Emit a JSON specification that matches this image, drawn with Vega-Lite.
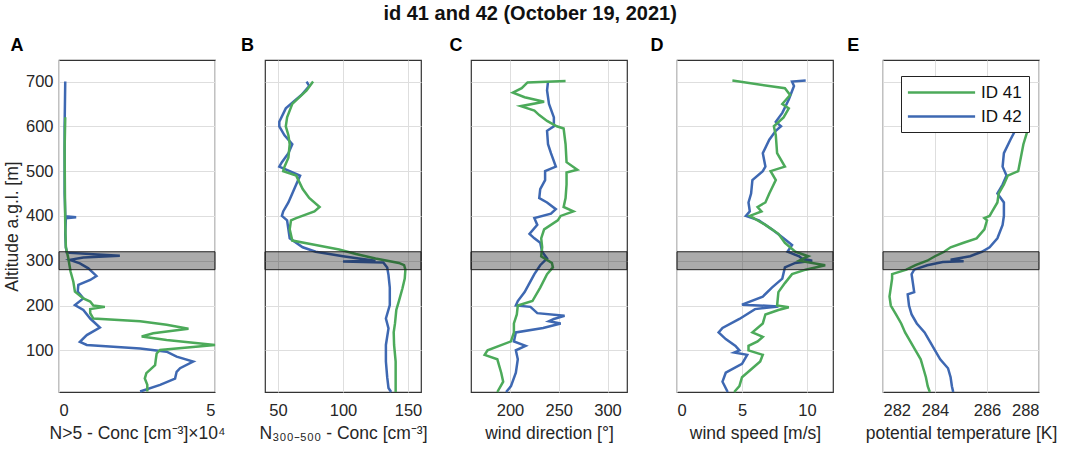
{
  "$schema": "https://vega.github.io/schema/vega-lite/v6.json",
  "autosize": {"type": "pad"},
  "padding": {"left": 2, "top": 4, "right": 5, "bottom": 5},
  "background": "white",
  "title": {"text": "id 41 and 42 (October 19, 2021)", "fontSize": 20, "fontWeight": "bold", "font": "Liberation Sans", "color": "#111111", "anchor": "middle", "offset": 12},
  "bounds": "flush",
  "spacing": 50,
  "resolve": {"scale": {"color": "independent"}, "legend": {"color": "independent"}},
  "config": {
    "font": "Liberation Sans",
    "view": {"stroke": "#333333", "strokeWidth": 1.2},
    "axis": {"grid": true, "gridColor": "#dedede", "gridWidth": 1, "ticks": false, "domain": false, "labelFont": "Liberation Sans", "labelFontSize": 16.5, "labelColor": "#262626", "titleFont": "Liberation Sans", "titleFontSize": 17.5, "titleFontWeight": "normal", "titleColor": "#262626", "labelPadding": 10, "titlePadding": 6},
    "title": {"font": "Liberation Sans"},
    "line": {"strokeWidth": 2.5}
  },
  "datasets": {
    "band": [{"lo": 280, "hi": 320}],
    "A": [
      {"id": "ID 42", "alt": 700, "v": 0.2}, {"id": "ID 42", "alt": 650, "v": 0.19}, {"id": "ID 42", "alt": 600, "v": 0.18}, {"id": "ID 42", "alt": 550, "v": 0.18}, {"id": "ID 42", "alt": 500, "v": 0.18}, {"id": "ID 42", "alt": 450, "v": 0.18}, {"id": "ID 42", "alt": 405, "v": 0.2}, {"id": "ID 42", "alt": 399, "v": 0.2}, {"id": "ID 42", "alt": 397, "v": 0.55}, {"id": "ID 42", "alt": 395, "v": 0.22}, {"id": "ID 42", "alt": 360, "v": 0.2}, {"id": "ID 42", "alt": 330, "v": 0.22}, {"id": "ID 42", "alt": 318, "v": 0.25}, {"id": "ID 42", "alt": 311, "v": 1.95}, {"id": "ID 42", "alt": 307, "v": 0.78}, {"id": "ID 42", "alt": 302, "v": 0.35}, {"id": "ID 42", "alt": 294, "v": 0.67}, {"id": "ID 42", "alt": 283, "v": 0.94}, {"id": "ID 42", "alt": 266, "v": 1.2}, {"id": "ID 42", "alt": 257, "v": 1.0}, {"id": "ID 42", "alt": 246, "v": 0.62}, {"id": "ID 42", "alt": 231, "v": 0.6}, {"id": "ID 42", "alt": 216, "v": 0.78}, {"id": "ID 42", "alt": 201, "v": 0.51}, {"id": "ID 42", "alt": 190, "v": 0.78}, {"id": "ID 42", "alt": 171, "v": 1.0}, {"id": "ID 42", "alt": 151, "v": 1.31}, {"id": "ID 42", "alt": 134, "v": 0.89}, {"id": "ID 42", "alt": 119, "v": 0.67}, {"id": "ID 42", "alt": 112, "v": 0.89}, {"id": "ID 42", "alt": 104, "v": 2.6}, {"id": "ID 42", "alt": 97, "v": 3.45}, {"id": "ID 42", "alt": 86, "v": 3.77}, {"id": "ID 42", "alt": 75, "v": 4.3}, {"id": "ID 42", "alt": 60, "v": 3.88}, {"id": "ID 42", "alt": 52, "v": 3.77}, {"id": "ID 42", "alt": 37, "v": 3.72}, {"id": "ID 42", "alt": 23, "v": 3.24}, {"id": "ID 42", "alt": 8, "v": 2.6},
      {"id": "ID 41", "alt": 620, "v": 0.2}, {"id": "ID 41", "alt": 550, "v": 0.18}, {"id": "ID 41", "alt": 450, "v": 0.19}, {"id": "ID 41", "alt": 380, "v": 0.2}, {"id": "ID 41", "alt": 330, "v": 0.22}, {"id": "ID 41", "alt": 305, "v": 0.3}, {"id": "ID 41", "alt": 276, "v": 0.37}, {"id": "ID 41", "alt": 253, "v": 0.46}, {"id": "ID 41", "alt": 231, "v": 0.51}, {"id": "ID 41", "alt": 216, "v": 0.78}, {"id": "ID 41", "alt": 209, "v": 1.0}, {"id": "ID 41", "alt": 200, "v": 1.1}, {"id": "ID 41", "alt": 197, "v": 1.47}, {"id": "ID 41", "alt": 192, "v": 1.0}, {"id": "ID 41", "alt": 183, "v": 1.0}, {"id": "ID 41", "alt": 171, "v": 1.1}, {"id": "ID 41", "alt": 165, "v": 2.6}, {"id": "ID 41", "alt": 157, "v": 3.45}, {"id": "ID 41", "alt": 148, "v": 4.15}, {"id": "ID 41", "alt": 138, "v": 3.02}, {"id": "ID 41", "alt": 131, "v": 2.65}, {"id": "ID 41", "alt": 123, "v": 3.45}, {"id": "ID 41", "alt": 112, "v": 5.0}, {"id": "ID 41", "alt": 101, "v": 3.24}, {"id": "ID 41", "alt": 93, "v": 3.13}, {"id": "ID 41", "alt": 78, "v": 3.1}, {"id": "ID 41", "alt": 67, "v": 3.08}, {"id": "ID 41", "alt": 49, "v": 2.8}, {"id": "ID 41", "alt": 37, "v": 2.75}, {"id": "ID 41", "alt": 23, "v": 2.83}, {"id": "ID 41", "alt": 8, "v": 2.83}
    ],
    "B": [
      {"id": "ID 42", "alt": 700, "v": 72}, {"id": "ID 42", "alt": 690, "v": 74}, {"id": "ID 42", "alt": 670, "v": 68}, {"id": "ID 42", "alt": 640, "v": 56}, {"id": "ID 42", "alt": 610, "v": 51}, {"id": "ID 42", "alt": 600, "v": 51}, {"id": "ID 42", "alt": 580, "v": 55}, {"id": "ID 42", "alt": 560, "v": 61}, {"id": "ID 42", "alt": 540, "v": 58}, {"id": "ID 42", "alt": 520, "v": 53}, {"id": "ID 42", "alt": 510, "v": 51}, {"id": "ID 42", "alt": 500, "v": 59}, {"id": "ID 42", "alt": 490, "v": 67}, {"id": "ID 42", "alt": 470, "v": 64}, {"id": "ID 42", "alt": 450, "v": 61}, {"id": "ID 42", "alt": 430, "v": 58}, {"id": "ID 42", "alt": 410, "v": 54}, {"id": "ID 42", "alt": 400, "v": 53}, {"id": "ID 42", "alt": 390, "v": 57}, {"id": "ID 42", "alt": 370, "v": 58}, {"id": "ID 42", "alt": 350, "v": 59}, {"id": "ID 42", "alt": 330, "v": 69}, {"id": "ID 42", "alt": 320, "v": 79}, {"id": "ID 42", "alt": 310, "v": 100}, {"id": "ID 42", "alt": 305, "v": 112}, {"id": "ID 42", "alt": 300, "v": 125}, {"id": "ID 42", "alt": 298, "v": 100}, {"id": "ID 42", "alt": 296, "v": 131}, {"id": "ID 42", "alt": 285, "v": 134}, {"id": "ID 42", "alt": 268, "v": 135}, {"id": "ID 42", "alt": 240, "v": 136}, {"id": "ID 42", "alt": 201, "v": 136}, {"id": "ID 42", "alt": 171, "v": 133}, {"id": "ID 42", "alt": 149, "v": 135}, {"id": "ID 42", "alt": 112, "v": 133}, {"id": "ID 42", "alt": 75, "v": 133}, {"id": "ID 42", "alt": 40, "v": 134}, {"id": "ID 42", "alt": 16, "v": 135}, {"id": "ID 42", "alt": 7, "v": 137},
      {"id": "ID 41", "alt": 700, "v": 77}, {"id": "ID 41", "alt": 680, "v": 72}, {"id": "ID 41", "alt": 650, "v": 61}, {"id": "ID 41", "alt": 620, "v": 57}, {"id": "ID 41", "alt": 600, "v": 56}, {"id": "ID 41", "alt": 580, "v": 58}, {"id": "ID 41", "alt": 560, "v": 59}, {"id": "ID 41", "alt": 530, "v": 58}, {"id": "ID 41", "alt": 510, "v": 55}, {"id": "ID 41", "alt": 500, "v": 54}, {"id": "ID 41", "alt": 490, "v": 64}, {"id": "ID 41", "alt": 460, "v": 69}, {"id": "ID 41", "alt": 440, "v": 74}, {"id": "ID 41", "alt": 420, "v": 82}, {"id": "ID 41", "alt": 410, "v": 78}, {"id": "ID 41", "alt": 395, "v": 64}, {"id": "ID 41", "alt": 390, "v": 60}, {"id": "ID 41", "alt": 370, "v": 59}, {"id": "ID 41", "alt": 345, "v": 61}, {"id": "ID 41", "alt": 335, "v": 79}, {"id": "ID 41", "alt": 325, "v": 97}, {"id": "ID 41", "alt": 315, "v": 110}, {"id": "ID 41", "alt": 305, "v": 125}, {"id": "ID 41", "alt": 295, "v": 143}, {"id": "ID 41", "alt": 290, "v": 147}, {"id": "ID 41", "alt": 280, "v": 148}, {"id": "ID 41", "alt": 260, "v": 147.5}, {"id": "ID 41", "alt": 238, "v": 145.7}, {"id": "ID 41", "alt": 210, "v": 143}, {"id": "ID 41", "alt": 190, "v": 141}, {"id": "ID 41", "alt": 160, "v": 140}, {"id": "ID 41", "alt": 140, "v": 139}, {"id": "ID 41", "alt": 112, "v": 139.3}, {"id": "ID 41", "alt": 75, "v": 140.5}, {"id": "ID 41", "alt": 40, "v": 140.5}, {"id": "ID 41", "alt": 7, "v": 140.5}
    ],
    "C": [
      {"id": "ID 42", "alt": 700, "v": 239}, {"id": "ID 42", "alt": 680, "v": 238}, {"id": "ID 42", "alt": 650, "v": 240}, {"id": "ID 42", "alt": 620, "v": 245}, {"id": "ID 42", "alt": 600, "v": 245}, {"id": "ID 42", "alt": 590, "v": 238}, {"id": "ID 42", "alt": 560, "v": 239}, {"id": "ID 42", "alt": 540, "v": 242}, {"id": "ID 42", "alt": 510, "v": 247}, {"id": "ID 42", "alt": 500, "v": 236}, {"id": "ID 42", "alt": 480, "v": 236}, {"id": "ID 42", "alt": 460, "v": 231}, {"id": "ID 42", "alt": 440, "v": 230}, {"id": "ID 42", "alt": 430, "v": 238}, {"id": "ID 42", "alt": 415, "v": 247}, {"id": "ID 42", "alt": 405, "v": 242}, {"id": "ID 42", "alt": 395, "v": 225}, {"id": "ID 42", "alt": 380, "v": 228}, {"id": "ID 42", "alt": 360, "v": 220}, {"id": "ID 42", "alt": 350, "v": 225}, {"id": "ID 42", "alt": 340, "v": 231}, {"id": "ID 42", "alt": 320, "v": 233}, {"id": "ID 42", "alt": 305, "v": 238}, {"id": "ID 42", "alt": 290, "v": 231}, {"id": "ID 42", "alt": 270, "v": 225}, {"id": "ID 42", "alt": 250, "v": 220}, {"id": "ID 42", "alt": 230, "v": 215}, {"id": "ID 42", "alt": 210, "v": 208}, {"id": "ID 42", "alt": 200, "v": 206}, {"id": "ID 42", "alt": 197, "v": 221}, {"id": "ID 42", "alt": 183, "v": 228}, {"id": "ID 42", "alt": 177, "v": 256}, {"id": "ID 42", "alt": 170, "v": 245}, {"id": "ID 42", "alt": 165, "v": 240}, {"id": "ID 42", "alt": 160, "v": 252}, {"id": "ID 42", "alt": 150, "v": 234}, {"id": "ID 42", "alt": 140, "v": 206}, {"id": "ID 42", "alt": 120, "v": 204}, {"id": "ID 42", "alt": 110, "v": 216}, {"id": "ID 42", "alt": 100, "v": 206}, {"id": "ID 42", "alt": 80, "v": 208}, {"id": "ID 42", "alt": 50, "v": 206}, {"id": "ID 42", "alt": 20, "v": 201}, {"id": "ID 42", "alt": 7, "v": 196},
      {"id": "ID 41", "alt": 701, "v": 257}, {"id": "ID 41", "alt": 698, "v": 218}, {"id": "ID 41", "alt": 685, "v": 212}, {"id": "ID 41", "alt": 675, "v": 203}, {"id": "ID 41", "alt": 665, "v": 215}, {"id": "ID 41", "alt": 655, "v": 235}, {"id": "ID 41", "alt": 645, "v": 211}, {"id": "ID 41", "alt": 635, "v": 225}, {"id": "ID 41", "alt": 625, "v": 230}, {"id": "ID 41", "alt": 612, "v": 238}, {"id": "ID 41", "alt": 600, "v": 248}, {"id": "ID 41", "alt": 595, "v": 255}, {"id": "ID 41", "alt": 560, "v": 257}, {"id": "ID 41", "alt": 520, "v": 258}, {"id": "ID 41", "alt": 503, "v": 269}, {"id": "ID 41", "alt": 497, "v": 258}, {"id": "ID 41", "alt": 470, "v": 258}, {"id": "ID 41", "alt": 440, "v": 257}, {"id": "ID 41", "alt": 420, "v": 255}, {"id": "ID 41", "alt": 410, "v": 265}, {"id": "ID 41", "alt": 400, "v": 252}, {"id": "ID 41", "alt": 390, "v": 249}, {"id": "ID 41", "alt": 370, "v": 235}, {"id": "ID 41", "alt": 350, "v": 232}, {"id": "ID 41", "alt": 330, "v": 233}, {"id": "ID 41", "alt": 310, "v": 232}, {"id": "ID 41", "alt": 295, "v": 243}, {"id": "ID 41", "alt": 285, "v": 244}, {"id": "ID 41", "alt": 270, "v": 238}, {"id": "ID 41", "alt": 240, "v": 231}, {"id": "ID 41", "alt": 210, "v": 223}, {"id": "ID 41", "alt": 200, "v": 208}, {"id": "ID 41", "alt": 180, "v": 207}, {"id": "ID 41", "alt": 160, "v": 204}, {"id": "ID 41", "alt": 140, "v": 204}, {"id": "ID 41", "alt": 120, "v": 201}, {"id": "ID 41", "alt": 100, "v": 177}, {"id": "ID 41", "alt": 90, "v": 174}, {"id": "ID 41", "alt": 80, "v": 187}, {"id": "ID 41", "alt": 50, "v": 191}, {"id": "ID 41", "alt": 30, "v": 193}, {"id": "ID 41", "alt": 7, "v": 187}
    ],
    "D": [
      {"id": "ID 42", "alt": 702, "v": 9.9}, {"id": "ID 42", "alt": 700, "v": 8.85}, {"id": "ID 42", "alt": 690, "v": 9.0}, {"id": "ID 42", "alt": 660, "v": 8.6}, {"id": "ID 42", "alt": 630, "v": 8.1}, {"id": "ID 42", "alt": 610, "v": 7.6}, {"id": "ID 42", "alt": 600, "v": 8.0}, {"id": "ID 42", "alt": 590, "v": 7.6}, {"id": "ID 42", "alt": 570, "v": 7.1}, {"id": "ID 42", "alt": 540, "v": 6.6}, {"id": "ID 42", "alt": 510, "v": 6.8}, {"id": "ID 42", "alt": 500, "v": 6.6}, {"id": "ID 42", "alt": 480, "v": 5.8}, {"id": "ID 42", "alt": 450, "v": 5.7}, {"id": "ID 42", "alt": 430, "v": 5.5}, {"id": "ID 42", "alt": 410, "v": 5.6}, {"id": "ID 42", "alt": 400, "v": 5.3}, {"id": "ID 42", "alt": 390, "v": 6.3}, {"id": "ID 42", "alt": 370, "v": 7.3}, {"id": "ID 42", "alt": 350, "v": 8.2}, {"id": "ID 42", "alt": 335, "v": 8.85}, {"id": "ID 42", "alt": 320, "v": 8.5}, {"id": "ID 42", "alt": 310, "v": 9.4}, {"id": "ID 42", "alt": 305, "v": 9.6}, {"id": "ID 42", "alt": 300, "v": 10.4}, {"id": "ID 42", "alt": 295, "v": 9.1}, {"id": "ID 42", "alt": 285, "v": 8.3}, {"id": "ID 42", "alt": 260, "v": 8.1}, {"id": "ID 42", "alt": 240, "v": 7.3}, {"id": "ID 42", "alt": 220, "v": 6.6}, {"id": "ID 42", "alt": 202, "v": 5.0}, {"id": "ID 42", "alt": 198, "v": 7.8}, {"id": "ID 42", "alt": 192, "v": 6.0}, {"id": "ID 42", "alt": 170, "v": 4.8}, {"id": "ID 42", "alt": 150, "v": 3.5}, {"id": "ID 42", "alt": 140, "v": 3.2}, {"id": "ID 42", "alt": 125, "v": 3.75}, {"id": "ID 42", "alt": 110, "v": 4.5}, {"id": "ID 42", "alt": 100, "v": 4.8}, {"id": "ID 42", "alt": 95, "v": 4.4}, {"id": "ID 42", "alt": 90, "v": 5.4}, {"id": "ID 42", "alt": 70, "v": 5.0}, {"id": "ID 42", "alt": 50, "v": 3.75}, {"id": "ID 42", "alt": 30, "v": 3.5}, {"id": "ID 42", "alt": 7, "v": 3.9},
      {"id": "ID 41", "alt": 702, "v": 4.26}, {"id": "ID 41", "alt": 685, "v": 8.3}, {"id": "ID 41", "alt": 670, "v": 8.7}, {"id": "ID 41", "alt": 650, "v": 8.1}, {"id": "ID 41", "alt": 640, "v": 8.6}, {"id": "ID 41", "alt": 620, "v": 8.2}, {"id": "ID 41", "alt": 600, "v": 7.45}, {"id": "ID 41", "alt": 580, "v": 7.6}, {"id": "ID 41", "alt": 540, "v": 7.7}, {"id": "ID 41", "alt": 510, "v": 8.3}, {"id": "ID 41", "alt": 500, "v": 7.2}, {"id": "ID 41", "alt": 480, "v": 7.6}, {"id": "ID 41", "alt": 450, "v": 7.1}, {"id": "ID 41", "alt": 430, "v": 6.8}, {"id": "ID 41", "alt": 420, "v": 6.2}, {"id": "ID 41", "alt": 410, "v": 6.5}, {"id": "ID 41", "alt": 400, "v": 5.6}, {"id": "ID 41", "alt": 380, "v": 6.8}, {"id": "ID 41", "alt": 360, "v": 7.8}, {"id": "ID 41", "alt": 340, "v": 8.3}, {"id": "ID 41", "alt": 320, "v": 9.1}, {"id": "ID 41", "alt": 310, "v": 10.1}, {"id": "ID 41", "alt": 300, "v": 9.4}, {"id": "ID 41", "alt": 290, "v": 11.4}, {"id": "ID 41", "alt": 280, "v": 9.9}, {"id": "ID 41", "alt": 270, "v": 8.85}, {"id": "ID 41", "alt": 250, "v": 8.3}, {"id": "ID 41", "alt": 230, "v": 7.8}, {"id": "ID 41", "alt": 200, "v": 7.7}, {"id": "ID 41", "alt": 196, "v": 8.6}, {"id": "ID 41", "alt": 190, "v": 7.8}, {"id": "ID 41", "alt": 180, "v": 6.8}, {"id": "ID 41", "alt": 160, "v": 6.6}, {"id": "ID 41", "alt": 140, "v": 5.8}, {"id": "ID 41", "alt": 130, "v": 6.6}, {"id": "ID 41", "alt": 120, "v": 6.2}, {"id": "ID 41", "alt": 110, "v": 5.5}, {"id": "ID 41", "alt": 100, "v": 5.5}, {"id": "ID 41", "alt": 90, "v": 6.6}, {"id": "ID 41", "alt": 75, "v": 6.4}, {"id": "ID 41", "alt": 60, "v": 5.8}, {"id": "ID 41", "alt": 40, "v": 5.0}, {"id": "ID 41", "alt": 20, "v": 4.8}, {"id": "ID 41", "alt": 7, "v": 4.4}
    ],
    "E": [
      {"id": "ID 42", "alt": 598, "v": 287.15}, {"id": "ID 42", "alt": 570, "v": 286.9}, {"id": "ID 42", "alt": 540, "v": 286.65}, {"id": "ID 42", "alt": 510, "v": 286.6}, {"id": "ID 42", "alt": 490, "v": 286.75}, {"id": "ID 42", "alt": 470, "v": 286.6}, {"id": "ID 42", "alt": 450, "v": 286.4}, {"id": "ID 42", "alt": 430, "v": 286.65}, {"id": "ID 42", "alt": 400, "v": 286.65}, {"id": "ID 42", "alt": 380, "v": 286.6}, {"id": "ID 42", "alt": 350, "v": 286.4}, {"id": "ID 42", "alt": 330, "v": 286.1}, {"id": "ID 42", "alt": 320, "v": 285.8}, {"id": "ID 42", "alt": 310, "v": 285.35}, {"id": "ID 42", "alt": 302, "v": 284.6}, {"id": "ID 42", "alt": 299, "v": 285.1}, {"id": "ID 42", "alt": 297, "v": 284.3}, {"id": "ID 42", "alt": 290, "v": 283.7}, {"id": "ID 42", "alt": 280, "v": 283.2}, {"id": "ID 42", "alt": 270, "v": 283.1}, {"id": "ID 42", "alt": 250, "v": 283.15}, {"id": "ID 42", "alt": 230, "v": 283.2}, {"id": "ID 42", "alt": 225, "v": 282.95}, {"id": "ID 42", "alt": 200, "v": 283.0}, {"id": "ID 42", "alt": 180, "v": 283.1}, {"id": "ID 42", "alt": 160, "v": 283.3}, {"id": "ID 42", "alt": 140, "v": 283.6}, {"id": "ID 42", "alt": 120, "v": 283.8}, {"id": "ID 42", "alt": 100, "v": 284.0}, {"id": "ID 42", "alt": 80, "v": 284.2}, {"id": "ID 42", "alt": 60, "v": 284.5}, {"id": "ID 42", "alt": 40, "v": 284.6}, {"id": "ID 42", "alt": 20, "v": 284.65}, {"id": "ID 42", "alt": 7, "v": 284.7},
      {"id": "ID 41", "alt": 598, "v": 287.6}, {"id": "ID 41", "alt": 560, "v": 287.4}, {"id": "ID 41", "alt": 500, "v": 287.2}, {"id": "ID 41", "alt": 490, "v": 286.8}, {"id": "ID 41", "alt": 470, "v": 286.65}, {"id": "ID 41", "alt": 450, "v": 286.45}, {"id": "ID 41", "alt": 430, "v": 286.4}, {"id": "ID 41", "alt": 410, "v": 286.2}, {"id": "ID 41", "alt": 400, "v": 286.1}, {"id": "ID 41", "alt": 395, "v": 285.9}, {"id": "ID 41", "alt": 390, "v": 286.0}, {"id": "ID 41", "alt": 370, "v": 285.9}, {"id": "ID 41", "alt": 350, "v": 285.6}, {"id": "ID 41", "alt": 340, "v": 285.1}, {"id": "ID 41", "alt": 330, "v": 284.6}, {"id": "ID 41", "alt": 320, "v": 284.35}, {"id": "ID 41", "alt": 310, "v": 284.0}, {"id": "ID 41", "alt": 300, "v": 283.7}, {"id": "ID 41", "alt": 290, "v": 283.25}, {"id": "ID 41", "alt": 280, "v": 282.9}, {"id": "ID 41", "alt": 270, "v": 282.35}, {"id": "ID 41", "alt": 260, "v": 282.35}, {"id": "ID 41", "alt": 240, "v": 282.3}, {"id": "ID 41", "alt": 220, "v": 282.25}, {"id": "ID 41", "alt": 200, "v": 282.3}, {"id": "ID 41", "alt": 180, "v": 282.5}, {"id": "ID 41", "alt": 160, "v": 282.7}, {"id": "ID 41", "alt": 140, "v": 282.85}, {"id": "ID 41", "alt": 120, "v": 283.05}, {"id": "ID 41", "alt": 100, "v": 283.25}, {"id": "ID 41", "alt": 80, "v": 283.45}, {"id": "ID 41", "alt": 60, "v": 283.55}, {"id": "ID 41", "alt": 40, "v": 283.65}, {"id": "ID 41", "alt": 20, "v": 283.72}, {"id": "ID 41", "alt": 7, "v": 283.8}
    ]
  },
  "hconcat": [
    {
      "width": 156, "height": 332,
      "title": {"text": "A", "anchor": "start", "dx": 7, "fontSize": 18, "fontWeight": "bold", "offset": 5, "color": "#000000"},
      "layer": [
        {"data": {"name": "A"}, "mark": {"type": "line", "strokeWidth": 2.5},
         "encoding": {
           "x": {"field": "v", "type": "quantitative", "scale": {"domain": [0, 5], "nice": false, "zero": false}, "axis": {"values": [0, 5], "title": "N>5 - Conc [cm⁻³]×10⁴"}},
           "y": {"field": "alt", "type": "quantitative", "scale": {"domain": [7, 748], "nice": false, "zero": false}, "axis": {"values": [100, 200, 300, 400, 500, 600, 700], "title": "Altitude a.g.l. [m]", "labelPadding": 6, "titlePadding": 4}},
           "color": {"field": "id", "type": "nominal", "scale": {"domain": ["ID 41", "ID 42"], "range": ["#4caa5a", "#3e68b2"]}, "legend": null},
           "order": {"field": "alt", "sort": "descending"}}},
        {"data": {"name": "band"}, "mark": {"type": "rect", "fill": "#000000", "fillOpacity": 0.33, "stroke": "#222222", "strokeWidth": 1},
         "encoding": {"y": {"field": "lo", "type": "quantitative"}, "y2": {"field": "hi"}}}
      ]
    },
    {
      "width": 156, "height": 332,
      "title": {"text": "B", "anchor": "start", "dx": -18, "fontSize": 18, "fontWeight": "bold", "offset": 5, "color": "#000000"},
      "layer": [
        {"data": {"name": "B"}, "mark": {"type": "line", "strokeWidth": 2.5},
         "encoding": {
           "x": {"field": "v", "type": "quantitative", "scale": {"domain": [40, 160], "nice": false, "zero": false}, "axis": {"values": [50, 100, 150], "title": "N₃₀₀₋₅₀₀ - Conc [cm⁻³]"}},
           "y": {"field": "alt", "type": "quantitative", "scale": {"domain": [7, 748], "nice": false, "zero": false}, "axis": {"values": [100, 200, 300, 400, 500, 600, 700], "title": null, "labels": false}},
           "color": {"field": "id", "type": "nominal", "scale": {"domain": ["ID 41", "ID 42"], "range": ["#4caa5a", "#3e68b2"]}, "legend": null},
           "order": {"field": "alt", "sort": "descending"}}},
        {"data": {"name": "band"}, "mark": {"type": "rect", "fill": "#000000", "fillOpacity": 0.33, "stroke": "#222222", "strokeWidth": 1},
         "encoding": {"y": {"field": "lo", "type": "quantitative"}, "y2": {"field": "hi"}}}
      ]
    },
    {
      "width": 156, "height": 332,
      "title": {"text": "C", "anchor": "start", "dx": -21, "fontSize": 18, "fontWeight": "bold", "offset": 5, "color": "#000000"},
      "layer": [
        {"data": {"name": "C"}, "mark": {"type": "line", "strokeWidth": 2.5},
         "encoding": {
           "x": {"field": "v", "type": "quantitative", "scale": {"domain": [160, 320], "nice": false, "zero": false}, "axis": {"values": [200, 250, 300], "title": "wind direction [°]"}},
           "y": {"field": "alt", "type": "quantitative", "scale": {"domain": [7, 748], "nice": false, "zero": false}, "axis": {"values": [100, 200, 300, 400, 500, 600, 700], "title": null, "labels": false}},
           "color": {"field": "id", "type": "nominal", "scale": {"domain": ["ID 41", "ID 42"], "range": ["#4caa5a", "#3e68b2"]}, "legend": null},
           "order": {"field": "alt", "sort": "descending"}}},
        {"data": {"name": "band"}, "mark": {"type": "rect", "fill": "#000000", "fillOpacity": 0.33, "stroke": "#222222", "strokeWidth": 1},
         "encoding": {"y": {"field": "lo", "type": "quantitative"}, "y2": {"field": "hi"}}}
      ]
    },
    {
      "width": 156, "height": 332,
      "title": {"text": "D", "anchor": "start", "dx": -26, "fontSize": 18, "fontWeight": "bold", "offset": 5, "color": "#000000"},
      "layer": [
        {"data": {"name": "D"}, "mark": {"type": "line", "strokeWidth": 2.5},
         "encoding": {
           "x": {"field": "v", "type": "quantitative", "scale": {"domain": [0, 12], "nice": false, "zero": false}, "axis": {"values": [0, 5, 10], "title": "wind speed [m/s]"}},
           "y": {"field": "alt", "type": "quantitative", "scale": {"domain": [7, 748], "nice": false, "zero": false}, "axis": {"values": [100, 200, 300, 400, 500, 600, 700], "title": null, "labels": false}},
           "color": {"field": "id", "type": "nominal", "scale": {"domain": ["ID 41", "ID 42"], "range": ["#4caa5a", "#3e68b2"]}, "legend": null},
           "order": {"field": "alt", "sort": "descending"}}},
        {"data": {"name": "band"}, "mark": {"type": "rect", "fill": "#000000", "fillOpacity": 0.33, "stroke": "#222222", "strokeWidth": 1},
         "encoding": {"y": {"field": "lo", "type": "quantitative"}, "y2": {"field": "hi"}}}
      ]
    },
    {
      "width": 156, "height": 332,
      "title": {"text": "E", "anchor": "start", "dx": -18, "fontSize": 18, "fontWeight": "bold", "offset": 5, "color": "#000000"},
      "layer": [
        {"data": {"name": "E"}, "mark": {"type": "line", "strokeWidth": 2.5},
         "encoding": {
           "x": {"field": "v", "type": "quantitative", "scale": {"domain": [282, 288], "nice": false, "zero": false}, "axis": {"values": [282, 284, 286, 288], "title": "potential temperature [K]"}},
           "y": {"field": "alt", "type": "quantitative", "scale": {"domain": [7, 748], "nice": false, "zero": false}, "axis": {"values": [100, 200, 300, 400, 500, 600, 700], "title": null, "labels": false}},
           "color": {"field": "id", "type": "nominal", "scale": {"domain": ["ID 41", "ID 42"], "range": ["#4caa5a", "#3e68b2"]},
             "legend": {"orient": "none", "legendX": 18, "legendY": 16, "title": null, "symbolType": "M-4.2,0H4.2", "symbolSize": 256, "symbolOffset": 24, "symbolStrokeWidth": 3, "labelFontSize": 17, "labelColor": "#111111", "labelFont": "Liberation Sans", "labelOffset": 30, "padding": 7, "rowPadding": 6, "strokeColor": "#222222", "fillColor": "white", "cornerRadius": 0}},
           "order": {"field": "alt", "sort": "descending"}}},
        {"data": {"name": "band"}, "mark": {"type": "rect", "fill": "#000000", "fillOpacity": 0.33, "stroke": "#222222", "strokeWidth": 1},
         "encoding": {"y": {"field": "lo", "type": "quantitative"}, "y2": {"field": "hi"}}}
      ]
    }
  ]
}
